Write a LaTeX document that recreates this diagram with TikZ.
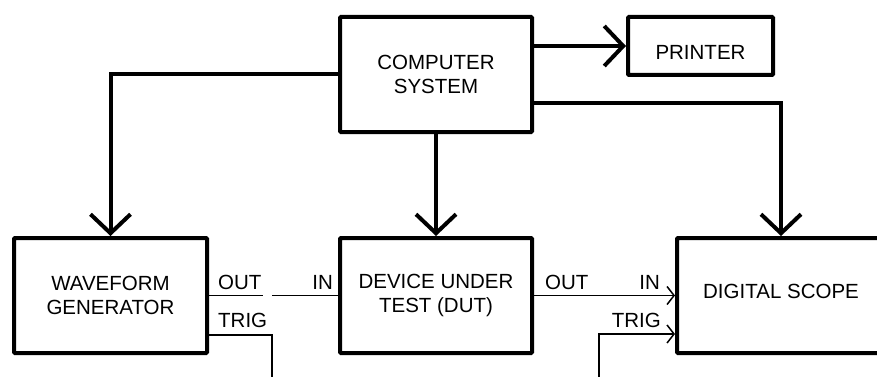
\documentclass[tikz,border=0pt]{standalone}
\usepackage{fontspec}
\setmainfont{Liberation Sans}
\usetikzlibrary{arrows.meta}
\pgfdeclarelayer{nodelayer}
\pgfdeclarelayer{edgelayer}
\pgfsetlayers{edgelayer,nodelayer,main}
\tikzstyle{box}=[fill=white, draw=black, shape=rectangle, line width=4pt, rounded corners=1pt, align=center, inner sep=0pt, font=\fontsize{20.5pt}{24pt}\selectfont]
\tikzstyle{port}=[inner sep=0pt, font=\fontsize{20.5pt}{24pt}\selectfont]
\tikzstyle{directed edge}=[line width=4pt, -{Straight Barb[length=19pt,width=40pt]}]
\tikzstyle{wire}=[line width=1.5pt]
\tikzstyle{directed wire}=[line width=1.5pt, -{Straight Barb[length=7pt,width=18pt]}]

\begin{document}
\begin{tikzpicture}[x=1pt, y=-1pt]
	\useasboundingbox (0,0) rectangle (877,377);
	\begin{pgfonlayer}{nodelayer}
		\node [style=box, minimum width=192pt, minimum height=115pt] (0) at (436, 74.5) {COMPUTER\\SYSTEM};
		\node [style=box, minimum width=145pt, minimum height=58pt, text height=27pt, text depth=0pt] (1) at (700.5, 46) {PRINTER};
		\node [style=box, minimum width=193pt, minimum height=115pt] (2) at (110.5, 295.5) {WAVEFORM\\GENERATOR};
		\node [style=box, minimum width=192pt, minimum height=115pt] (3) at (436, 295.5) {DEVICE UNDER\\TEST (DUT)};
		\node [style=box, minimum width=208pt, minimum height=115pt, text height=15pt, text depth=10pt] (4) at (781, 295.5) {DIGITAL SCOPE};
		\node [style=port, anchor=base west] (5) at (218, 289) {OUT};
		\node [style=port, anchor=base east] (6) at (333, 289) {IN};
		\node [style=port, anchor=base west] (7) at (218, 327) {TRIG};
		\node [style=port, anchor=base west] (8) at (545, 289) {OUT};
		\node [style=port, anchor=base east] (9) at (660, 289) {IN};
		\node [style=port, anchor=base east] (10) at (661, 327) {TRIG};
		\coordinate (11) at (263, 295.5);
		\coordinate (12) at (272, 295.5);
		\coordinate (13) at (272, 335);
		\coordinate (14) at (272, 380);
		\coordinate (15) at (599, 380);
	\end{pgfonlayer}
	\begin{pgfonlayer}{edgelayer}
		\draw [style=directed edge] (0.east |- 1.west) to (1.west);
		\draw [style=directed edge] ([yshift=-28.5pt]0.east) -| (4.north);
		\draw [style=directed edge] (0.west) -| (2.north);
		\draw [style=directed edge] (0.south) to (3.north);
		\draw [style=wire] (2.east) to (11);
		\draw [style=wire] (12) to (3.west);
		\draw [style=wire] (2.east |- 13) -- (13) -- (14);
		\draw [style=directed wire] (3.east) to (4.west);
		\draw [style=directed wire] (15) |- ([yshift=-38.5pt]4.west);
	\end{pgfonlayer}
\end{tikzpicture}
\end{document}
